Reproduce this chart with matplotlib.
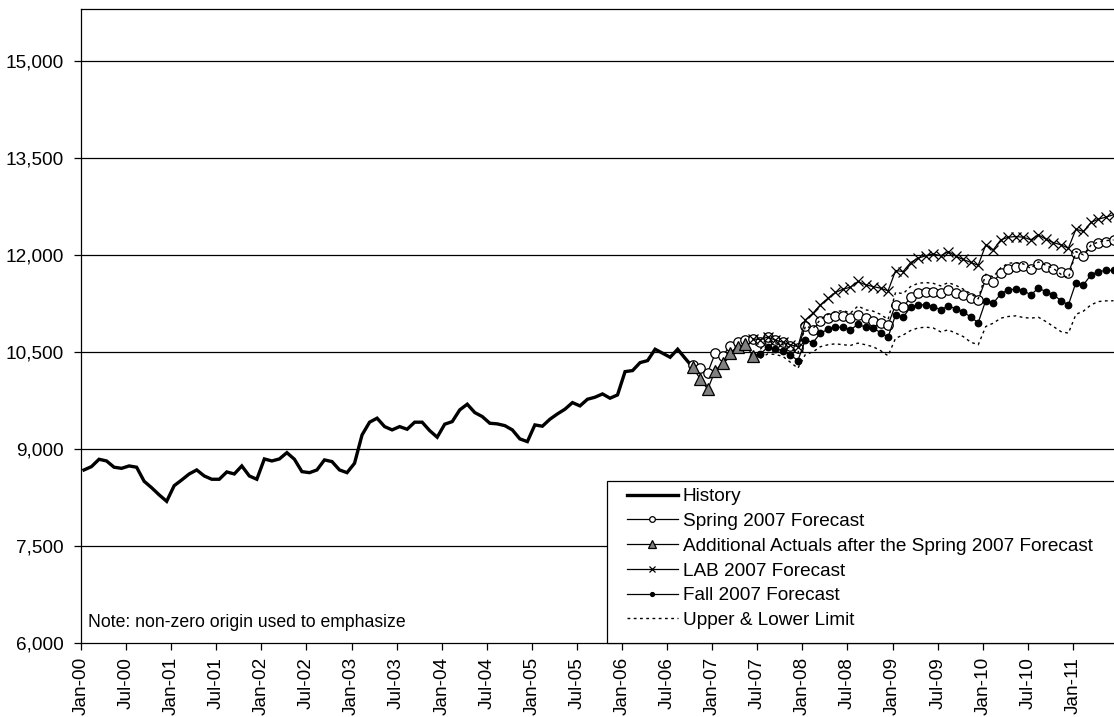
import matplotlib
matplotlib.use("Agg")
import matplotlib.pyplot as plt
from matplotlib.ticker import FuncFormatter
from matplotlib.patches import Rectangle

plt.rcParams['font.family'] = ['Liberation Sans', 'DejaVu Sans']

# month index 0 = Jan-00
history = [8675, 8727, 8840, 8814, 8717, 8700, 8737, 8717, 8500, 8400, 8290, 8190,
           8432, 8520, 8613, 8675, 8582, 8531, 8531, 8644, 8613, 8737, 8582, 8531,
           8845, 8814, 8845, 8942, 8840, 8649, 8633, 8675, 8830, 8804, 8675, 8633,
           8778, 9216, 9413, 9475, 9345, 9294, 9345, 9304, 9413, 9413, 9283, 9181,
           9382, 9422, 9603, 9691, 9562, 9500, 9397, 9387, 9360, 9294, 9155, 9113,
           9371, 9351, 9459, 9541, 9614, 9716, 9665, 9768, 9799, 9850, 9784, 9835,
           10195, 10211, 10334, 10365, 10541, 10479, 10417, 10541, 10400, 10263]
history_start = 0

spring = [10299, 10257, 10180, 10480, 10438, 10597, 10659, 10685, 10696, 10659, 10737,
          10685, 10659, 10593, 10557,
          10902, 10840, 10984, 11021, 11057, 11057, 11021, 11072, 11021, 10984, 10944, 10918,
          11227, 11191, 11346, 11408, 11433, 11433, 11408, 11459, 11408, 11381, 11340, 11304,
          11624, 11578, 11726, 11779, 11819, 11830, 11779, 11856, 11810, 11779, 11742, 11717,
          12036, 11985, 12139, 12190, 12206, 12232]
spring_start = 81

actuals = [10263, 10082, 9923, 10211, 10325, 10489, 10573, 10624, 10438]
actuals_start = 81

lab = [10700, 10690, 10730, 10680, 10650, 10610, 10580,
       10995, 11098, 11227, 11330, 11418, 11469, 11500, 11588, 11536, 11510, 11485, 11443,
       11757, 11742, 11881, 11949, 11985, 12015, 11985, 12051, 11980, 11928, 11884, 11838,
       12155, 12077, 12232, 12273, 12283, 12273, 12232, 12309, 12242, 12190, 12155, 12103,
       12397, 12361, 12500, 12552, 12583, 12620]
lab_start = 89

fall = [10438, 10469, 10573, 10546, 10521, 10453, 10365,
        10685, 10644, 10788, 10850, 10882, 10882, 10840, 10928, 10882, 10866, 10799, 10727,
        11072, 11036, 11191, 11227, 11227, 11201, 11149, 11211, 11165, 11123, 11036, 10953,
        11294, 11253, 11397, 11459, 11469, 11448, 11381, 11485, 11433, 11381, 11294, 11227,
        11572, 11536, 11691, 11742, 11758, 11758]
fall_start = 89

upper = [10540, 10670, 10640, 10610, 10560, 10480,
         10900, 10860, 11000, 11080, 11120, 11140, 11100, 11210, 11150, 11130, 11080, 11000,
         11420, 11400, 11510, 11560, 11572, 11560, 11520, 11570, 11530, 11470, 11400, 11320,
         11700, 11660, 11800, 11870, 11880, 11860, 11790, 11890, 11840, 11790, 11700, 11640,
         12050, 12000, 12150, 12200, 12220, 12230]
lower = [10400, 10470, 10460, 10430, 10340, 10247,
         10460, 10500, 10580, 10610, 10625, 10610, 10600, 10635, 10610, 10580, 10520, 10440,
         10711, 10760, 10830, 10870, 10882, 10870, 10810, 10840, 10790, 10737, 10650, 10610,
         10892, 10944, 11021, 11047, 11057, 11031, 11021, 11036, 10969, 10892, 10814, 10789,
         11080, 11130, 11227, 11278, 11289, 11290]
limit_start = 90

tick_labels = ['Jan-00', 'Jul-00', 'Jan-01', 'Jul-01', 'Jan-02', 'Jul-02', 'Jan-03', 'Jul-03',
               'Jan-04', 'Jul-04', 'Jan-05', 'Jul-05', 'Jan-06', 'Jul-06', 'Jan-07', 'Jul-07',
               'Jan-08', 'Jul-08', 'Jan-09', 'Jul-09', 'Jan-10', 'Jul-10', 'Jan-11']
y_ticks = [6000, 7500, 9000, 10500, 12000, 13500, 15000]


def xs(start, vals):
    return list(range(start, start + len(vals)))


fig = plt.figure(figsize=(11.14, 7.17), dpi=100)
ax = fig.add_axes([81 / 1114, 1 - 643 / 717, 1039 / 1114, 634 / 717])

for y in y_ticks[1:]:
    ax.axhline(y, color='black', lw=0.9, zorder=1)

ax.plot(xs(history_start, history), history, color='black', lw=2.4,
        solid_joinstyle='miter', label='History', zorder=3)
ax.plot(xs(spring_start, spring), spring, color='black', lw=0.9, marker='o', ms=6.8,
        mfc='white', mec='black', mew=0.9, label='Spring 2007 Forecast', zorder=4)
ax.plot(xs(actuals_start, actuals), actuals, color='black', lw=0.9, marker='^', ms=9,
        mfc='#808080', mec='black', mew=0.9,
        label='Additional Actuals after the Spring 2007 Forecast', zorder=6)
ax.plot(xs(lab_start, lab), lab, color='black', lw=0.9, marker='x', ms=7.5, mew=0.9,
        label='LAB 2007 Forecast', zorder=5)
ax.plot(xs(fall_start, fall), fall, color='black', lw=0.9, marker='o', ms=4.6,
        mfc='black', mec='black', label='Fall 2007 Forecast', zorder=5)
ax.plot(xs(limit_start, upper), upper, color='black', lw=1.0, ls=(0, (2, 2.5)),
        label='Upper & Lower Limit', zorder=4)
ax.plot(xs(limit_start, lower), lower, color='black', lw=1.0, ls=(0, (2, 2.5)), zorder=4)

ax.set_ylim(6000, 15800)
ax.set_xlim(-0.3, -0.3 + 1039 / 7.52)
ax.set_yticks(y_ticks)
ax.yaxis.set_major_formatter(FuncFormatter(lambda v, p: f'{int(v):,}'))
ax.set_xticks([6 * j - 0.4 for j in range(len(tick_labels))])
ax.set_xticklabels(tick_labels, rotation=90)
ax.tick_params(axis='both', direction='out', length=5, width=0.9, labelsize=13.7,
               colors='black')
ax.tick_params(axis='y', pad=7.5)
ax.tick_params(axis='x', pad=5)
for s in ax.spines.values():
    s.set_linewidth(0.9)
    s.set_color('black')

ax.text(0.007, 0.032, 'Note: non-zero origin used to emphasize', transform=ax.transAxes,
        fontsize=12.7, va='center', ha='left')

# legend box drawn by hand so it runs off the right edge like the original
box = Rectangle((526 / 1039, 0), 0.6, 162 / 634, transform=ax.transAxes,
                facecolor='white', edgecolor='black', lw=0.9, zorder=9, clip_on=False)
ax.add_patch(box)
leg = ax.legend(loc='upper left', bbox_to_anchor=(546 / 1039, 155 / 634),
                fontsize=13.7, frameon=False, handlelength=2.68, handletextpad=0.26,
                labelspacing=0.39, borderpad=0, markerscale=0.6, borderaxespad=0)
leg.set_zorder(10)

fig.savefig('out.png', dpi=100)
